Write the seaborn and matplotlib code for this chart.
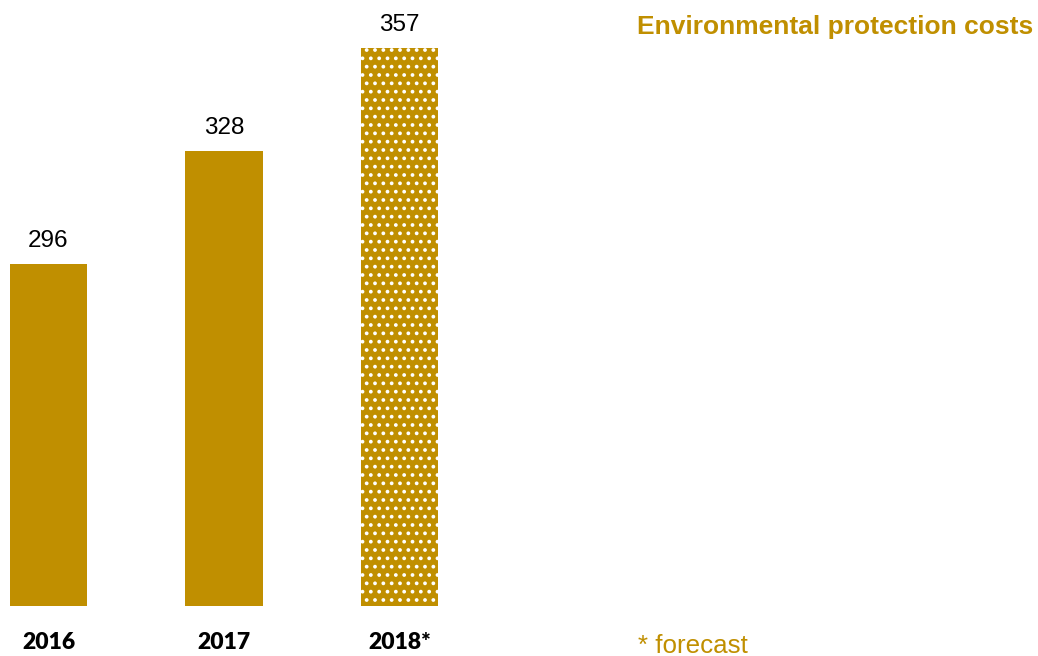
import matplotlib
matplotlib.use("Agg")
import matplotlib.pyplot as plt
import seaborn as sns
import pandas as pd

years = ["2016", "2017", "2018*"]
values = [296, 328, 357]
forecast = [False, False, True]

GOLD = "#C08F00"

sns.set_theme(style="white")
plt.rcParams["font.family"] = ["Liberation Sans", "DejaVu Sans"]
plt.rcParams["hatch.linewidth"] = 1.5

df = pd.DataFrame({"year": years, "value": values})

fig = plt.figure(figsize=(10.38, 6.56), dpi=100)
ax = fig.add_axes([0, 50 / 656, 1, 606 / 656])

sns.barplot(data=df, x="year", y="value", color=GOLD, saturation=1,
            width=0.44, ax=ax)

for patch, is_fc in zip(ax.patches, forecast):
    patch.set_linewidth(0)
    if is_fc:
        patch.set_edgecolor("white")
        patch.set_hatch("..")

px_per_cat = 175.5
left = -48.5 / px_per_cat
ax.set_xlim(left, left + 1038 / px_per_cat)
ax.set_ylim(199.4, 370.6)

for i, v in enumerate(values):
    ax.annotate(str(v), (i, v), xytext=(0, 16.5), textcoords="offset points",
                ha="center", va="center", fontsize=17.5, color="black")

ax.set_xticks(range(len(years)))
ax.set_xticklabels(years, fontsize=16.5, fontweight="heavy",
                   family=["Lato", "DejaVu Sans"], color="black")
ax.tick_params(axis="x", length=0, pad=19)
ax.set_yticks([])
ax.set_xlabel("")
ax.set_ylabel("")
sns.despine(ax=ax, left=True, bottom=True)

fig.text(1033 / 1038, 1 - 27 / 656, "Environmental protection costs",
         ha="right", va="center", fontsize=19, fontweight="bold", color=GOLD)
fig.text(638 / 1038, 1 - 646 / 656, "* forecast",
         ha="left", va="center", fontsize=18.7, color=GOLD)

fig.savefig("out.png", dpi=100)
